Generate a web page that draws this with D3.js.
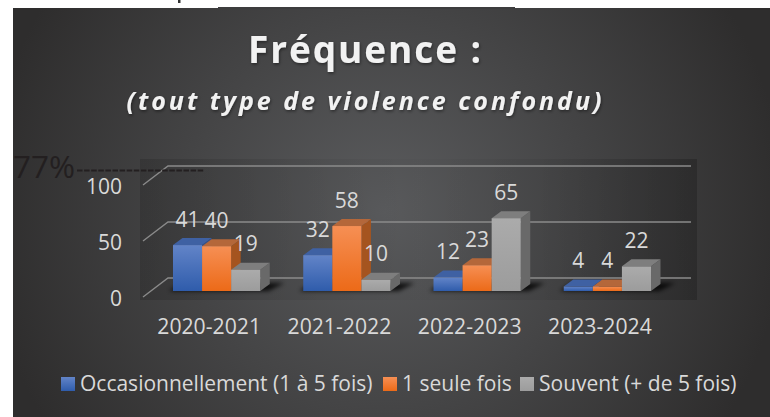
<!DOCTYPE html>
<html><head><meta charset="utf-8">
<script src="https://cdn.jsdelivr.net/npm/d3@7/dist/d3.min.js"></script>
<style>html,body{margin:0;padding:0;background:#fff;overflow:hidden}svg{display:block}text{font-family:"Open Sans",sans-serif}</style>
</head><body><svg id="c" width="770" height="417"></svg>
<script>
const categories = ["2020-2021","2021-2022","2022-2023","2023-2024"];
const seriesNames = ["Occasionnellement (1 à 5 fois)","1 seule fois","Souvent (+ de 5 fois)"];
const occasionnellement = [41,32,12,4];
const uneSeuleFois = [40,58,23,4];
const souvent = [19,10,65,22];
const yTicks = [0,50,100];
const titleText = "Fréquence :";
const subtitleText = "(tout type de violence confondu)";
const refLabel = "77%";

const seriesValues=[occasionnellement,uneSeuleFois,souvent];
const svg=d3.select("#c");
const defs=svg.append("defs");
const W=770,H=417;
const rg=defs.append("radialGradient").attr("id","bg").attr("gradientUnits","userSpaceOnUse")
 .attr("cx",385).attr("cy",212).attr("r",400);
rg.append("stop").attr("offset",0).attr("stop-color","#5b5c5e");
rg.append("stop").attr("offset",1).attr("stop-color","#2e2d2d");
const pg=defs.append("linearGradient").attr("id","panel");
[[0,"#000",.14],[.3,"#000",.06],[.5,"#000",.02],[.72,"#000",.06],[1,"#000",.2]].forEach(s=>pg.append("stop").attr("offset",s[0]).attr("stop-color",s[1]).attr("stop-opacity",s[2]));
const blur=defs.append("filter").attr("id","soft").attr("x","-20%").attr("y","-60%").attr("width","140%").attr("height","220%");
blur.append("feGaussianBlur").attr("stdDeviation",2);
const ts=defs.append("filter").attr("id","ts").attr("x","-10%").attr("y","-20%").attr("width","120%").attr("height","150%");
ts.append("feDropShadow").attr("dx",.8).attr("dy",1.5).attr("stdDeviation",1.5).attr("flood-color","#000").attr("flood-opacity",.45);

const colors=[{t:"#6284c8",b:"#2f5cab",top:"#3f61a3",side:"#32528e"},
 {t:"#f68f54",b:"#ec6a18",top:"#b4673a",side:"#a5541f"},
 {t:"#ababab",b:"#9c9c9c",top:"#7e7e7e",side:"#696969"}];
colors.forEach((c,i)=>{const g=defs.append("linearGradient").attr("id","f"+i).attr("x1",0).attr("y1",0).attr("x2",0).attr("y2",1);
 g.append("stop").attr("offset",0).attr("stop-color",c.t);g.append("stop").attr("offset",1).attr("stop-color",c.b);});

svg.append("rect").attr("x",13).attr("y",8).attr("width",W-13).attr("height",H-8).attr("fill","url(#bg)");
svg.append("rect").attr("x",218).attr("y",7).attr("width",297).attr("height",2).attr("fill","#3d3d3e");
svg.append("rect").attr("x",178).attr("y",0).attr("width",2.5).attr("height",3).attr("fill","#333");
svg.append("rect").attr("x",140).attr("y",159).attr("width",557).attr("height",141).attr("fill","url(#panel)");

const x0=d3.scaleBand().domain(categories).range([151.5,672.5]).paddingInner(.33).paddingOuter(.165);
const x1=d3.scaleBand().domain(d3.range(3)).range([0,x0.bandwidth()]);
const y=d3.scaleLinear().domain([0,100]).range([291,179]);
const dx=9.5,dy=7;

const grid=svg.append("g");
yTicks.forEach(t=>{
 grid.append("path").attr("fill","none").attr("stroke","#8a8a8a").attr("stroke-width",1.4)
  .attr("d",d3.line()([[143,y(t)+6],[168,y(t)-13],[691,y(t)-13]]));
});

const shadow=svg.append("g");
categories.forEach(c=>{
 const l=x0(c),r=l+x0.bandwidth();
 shadow.append("path").attr("fill","#000").attr("opacity",.8).attr("filter","url(#soft)")
  .attr("d",`M${l-4},291L${l+8},283L${r+24},283L${r+8},291Z`);
});

const bars=svg.append("g");
categories.forEach((c,ci)=>{
 seriesValues.forEach((vals,si)=>{
  const v=vals[ci],a=x0(c)+x1(si),w=x1.bandwidth(),t=y(v),b=y(0),col=colors[si];
  const g=bars.append("g");
  g.append("path").attr("fill",col.side).attr("d",`M${a+w},${t}L${a+w+dx},${t-dy}L${a+w+dx},${b-dy}L${a+w},${b}Z`);
  g.append("path").attr("fill",col.top).attr("d",`M${a},${t}L${a+dx},${t-dy}L${a+w+dx},${t-dy}L${a+w},${t}Z`);
  g.append("rect").attr("x",a).attr("y",t).attr("width",w).attr("height",b-t).attr("fill",`url(#f${si})`);
 });
});

const lab=svg.append("g").attr("fill","#d9d9d9").attr("font-size",21).attr("text-anchor","middle");
categories.forEach((c,ci)=>seriesValues.forEach((vals,si)=>{
 lab.append("text").attr("x",x0(c)+x1(si)+x1.bandwidth()/2).attr("y",y(vals[ci])-18.5).text(vals[ci]);
}));

const xAxis=svg.append("g").attr("transform","translate(-7.5,334)").call(d3.axisBottom(x0).tickSize(0).tickPadding(0));
xAxis.select(".domain").remove();
xAxis.selectAll("text").attr("dy",0).attr("y",0).attr("fill","#d9d9d9").attr("font-size",21.2).attr("font-family",'"Open Sans",sans-serif');
const yAxis=svg.append("g").attr("transform","translate(122,0)").call(d3.axisLeft(y).tickValues(yTicks).tickSize(0).tickPadding(0));
yAxis.select(".domain").remove();
yAxis.selectAll("text").attr("x",0).attr("dy",0).attr("y",14).attr("fill","#d9d9d9").attr("font-size",21).attr("font-family",'"Open Sans",sans-serif');

svg.append("text").attr("x",365.5).attr("y",63).attr("text-anchor","middle").attr("fill","#f2f2f2")
 .attr("font-size",37).attr("font-weight",700).attr("letter-spacing",1.9).attr("filter","url(#ts)").text(titleText);
svg.append("text").attr("x",365.5).attr("y",110).attr("text-anchor","middle").attr("fill","#f2f2f2")
 .attr("font-size",25).attr("font-weight",700).attr("font-style","italic").attr("letter-spacing",3).attr("filter","url(#ts)").text(subtitleText);

svg.append("text").attr("x",13).attr("y",178).attr("fill","#231f20").attr("font-size",31.5).attr("font-family","Liberation Sans").text(refLabel);
svg.append("line").attr("x1",77).attr("x2",204).attr("y1",170.5).attr("y2",170.5).attr("stroke","#231f20").attr("stroke-width",2).attr("stroke-dasharray","5.5 1.6");

const legX=[61,383,520],txtX=[80,402,539];
const leg=svg.append("g");
seriesNames.forEach((n,i)=>{
 leg.append("rect").attr("x",legX[i]).attr("y",377).attr("width",14).attr("height",14).attr("fill",`url(#f${i})`);
 leg.append("text").attr("x",txtX[i]).attr("y",391).attr("fill","#d9d9d9").attr("font-size",21).text(n);
});
</script></body></html>
